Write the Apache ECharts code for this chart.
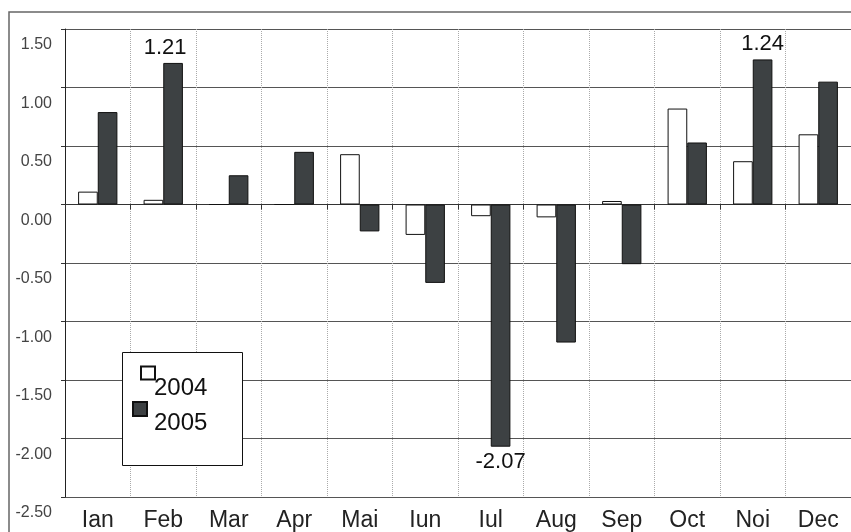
<!DOCTYPE html>
<html>
<head>
<meta charset="utf-8">
<script src="https://cdn.jsdelivr.net/npm/echarts@6/dist/echarts.min.js"></script>
<style>html,body{margin:0;padding:0;background:#fff}#c{width:851px;height:532px}</style>
</head>
<body>
<div id="c"></div>
<script>
var categories = ['Ian','Feb','Mar','Apr','Mai','Iun','Iul','Aug','Sep','Oct','Noi','Dec'];
var values2004 = [0.11, 0.04, 0, 0, 0.43, -0.26, -0.10, -0.11, 0.03, 0.82, 0.37, 0.60];
var values2005 = [0.79, 1.21, 0.25, 0.45, -0.23, -0.67, -2.07, -1.18, -0.51, 0.53, 1.24, 1.05];
var yTicks = { min: -2.5, max: 1.5, step: 0.5 };
var labelledPoints2005 = { 1: 'top', 6: 'bottom', 10: 'top' };

var FONT = '"Liberation Sans", Arial, sans-serif';
var data2005 = values2005.map(function (v, i) {
  var pos = labelledPoints2005[i];
  if (!pos) return v;
  return {
    value: v,
    label: {
      show: true, position: pos, distance: 4,
      offset: i === 1 ? [-8, 0] : [0, 0],
      formatter: function (p) { return p.value.toFixed(2); },
      fontSize: 22, color: '#111', fontFamily: FONT
    }
  };
});

var chart = echarts.init(document.getElementById('c'), null, { renderer: 'canvas' });
chart.setOption({
  animation: false,
  backgroundColor: '#fff',
  textStyle: { fontFamily: FONT },
  grid: { left: 65, right: 0, top: 29, bottom: 33, containLabel: false },
  graphic: [
    { type: 'rect', z: -10, shape: { x: 9, y: 12, width: 900, height: 600 },
      style: { fill: 'none', stroke: '#666', lineWidth: 1.5 } },
    { type: 'rect', z: 100, shape: { x: 122.5, y: 352.5, width: 120, height: 113 },
      style: { fill: '#fff', stroke: '#111', lineWidth: 1 } }
  ],
  legend: [
    { data: ['2004'], left: 140, top: 343, padding: 0, icon: 'rect', itemWidth: 14, itemHeight: 13, z: 110,
      formatter: function (n) { return ' \n' + n; },
      textStyle: { fontSize: 24, lineHeight: 30, color: '#111', fontFamily: FONT, padding: [0, 0, 0, -6] } },
    { data: ['2005'], left: 132, top: 381, padding: 0, icon: 'rect', itemWidth: 14, itemHeight: 14, z: 110,
      formatter: function (n) { return ' \n' + n; },
      textStyle: { fontSize: 24, lineHeight: 28, color: '#111', fontFamily: FONT, padding: [0, 0, 0, 2] } }
  ],
  xAxis: [
    {
      type: 'category', data: categories, position: 'bottom',
      axisLine: { show: false, onZero: false },
      axisTick: { show: false },
      axisLabel: { fontSize: 23, color: '#222', margin: 12, fontFamily: FONT },
      splitLine: { show: true, lineStyle: { color: '#aaa', type: [1, 1], width: 1 } }
    },
    {
      type: 'category', data: categories, position: 'top',
      axisLine: { show: true, onZero: true, lineStyle: { color: '#333', width: 1 } },
      axisTick: { show: true, inside: true, length: 5, lineStyle: { color: '#333' } },
      axisLabel: { show: false },
      splitLine: { show: false }
    }
  ],
  yAxis: {
    type: 'value', min: yTicks.min, max: yTicks.max, interval: yTicks.step,
    axisLine: { show: true, lineStyle: { color: '#222', width: 1 } },
    axisTick: { show: true, length: 4, lineStyle: { color: '#333' } },
    axisLabel: {
      formatter: function (v) { return v.toFixed(2); },
      fontSize: 16, color: '#444', margin: 13, verticalAlign: 'top', padding: [8, 0, 0, 0], fontFamily: FONT
    },
    splitLine: { show: true, lineStyle: { color: '#555', width: 1.2 } }
  },
  series: [
    { name: '2004', type: 'bar', data: values2004, barGap: '0%', barCategoryGap: '40%',
      itemStyle: { color: '#fff', borderColor: '#111', borderWidth: 1 } },
    { name: '2005', type: 'bar', data: data2005, barGap: '0%', barCategoryGap: '40%',
      itemStyle: { color: '#3d4143', borderColor: '#111', borderWidth: 1 } }
  ]
});
</script>
</body>
</html>
